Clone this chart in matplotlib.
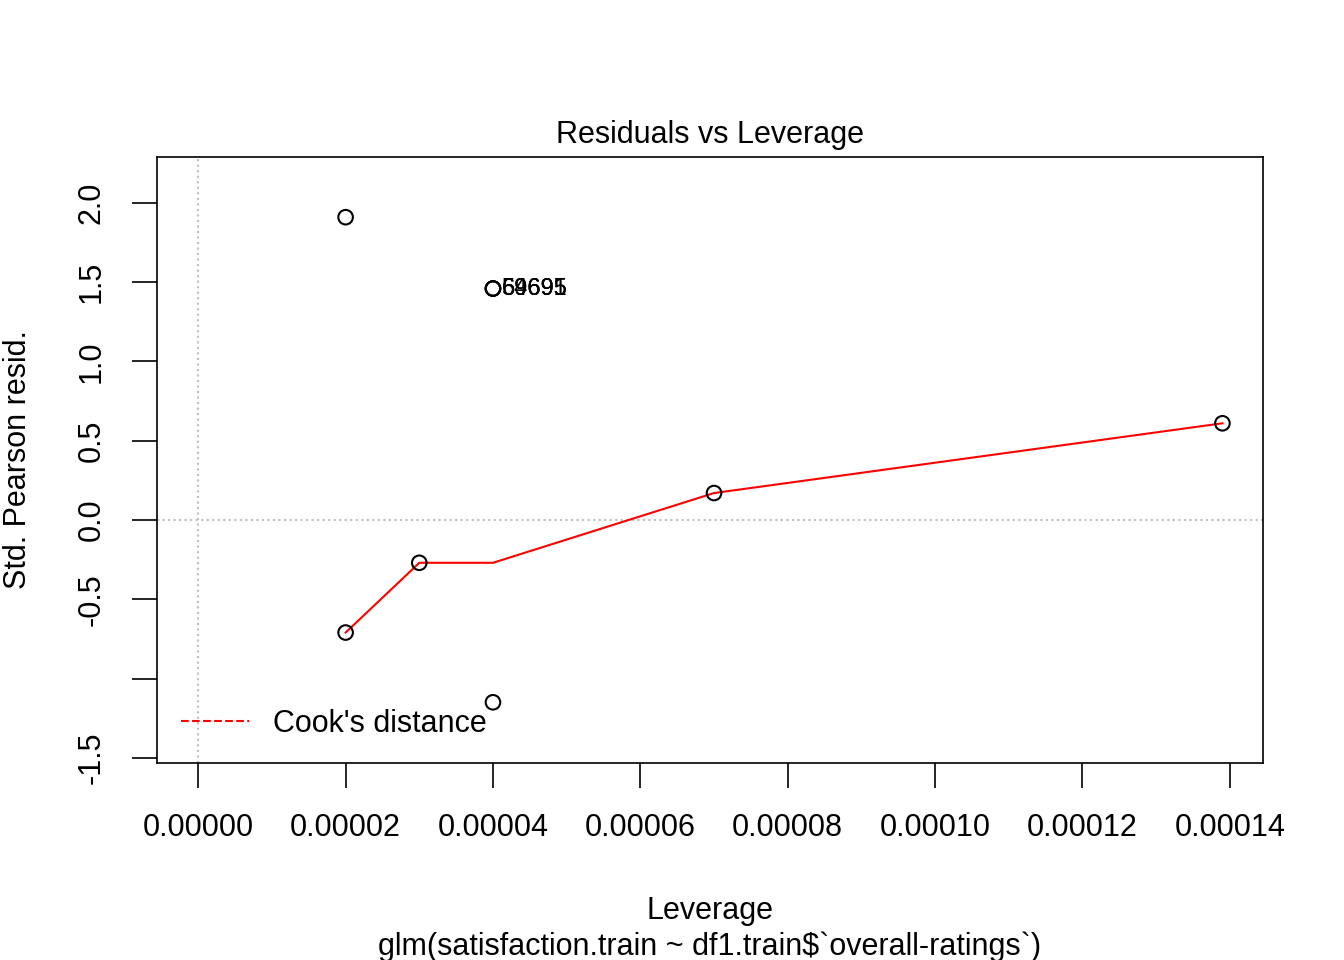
import matplotlib
matplotlib.use("Agg")
import matplotlib.pyplot as plt

plt.rcParams['font.family'] = ['Liberation Sans', 'DejaVu Sans']

leverage = [0.00002, 0.00004, 0.00004, 0.00004, 0.00002, 0.00003, 0.00004, 0.00007, 0.000139]
resid = [1.91, 1.46, 1.46, 1.46, -0.71, -0.27, -1.15, 0.17, 0.61]
labels = ["64695", "59691", "69695"]
label_x = [0.00004, 0.00004, 0.00004]
label_y = [1.46, 1.46, 1.46]
smooth_x = [0.00002, 0.00003, 0.00004, 0.00007, 0.000139]
smooth_y = [-0.71, -0.27, -0.27, 0.17, 0.61]
xticks = [0, 0.00002, 0.00004, 0.00006, 0.00008, 0.00010, 0.00012, 0.00014]
xticklabels = ["0.00000", "0.00002", "0.00004", "0.00006", "0.00008", "0.00010", "0.00012", "0.00014"]
yticks = [-1.5, -1.0, -0.5, 0.0, 0.5, 1.0, 1.5, 2.0]
yticklabels = ["-1.5", "", "-0.5", "0.0", "0.5", "1.0", "1.5", "2.0"]

fig = plt.figure(figsize=(13.44, 9.6), dpi=100)
ax = fig.add_axes([0.1168, 0.2052, 0.8229, 0.6313])
ax.axhline(0, color='#bebebe', ls=':', lw=1.5)
ax.axvline(0, color='#bebebe', ls=':', lw=1.5)
ax.plot(smooth_x, smooth_y, color='red', lw=1.5)
ax.scatter(leverage, resid, s=110, facecolors='none', edgecolors='black', linewidths=1.5, zorder=3)
for t, x, y in zip(labels, label_x, label_y):
    ax.annotate(t, (x, y), xytext=(6, 0), textcoords='offset points', fontsize=17, va='center')
ax.set_xlim(-0.0000056, 0.0001445)
ax.set_ylim(-1.533, 2.29)
ax.set_xticks(xticks)
ax.set_xticklabels(xticklabels, fontsize=22)
ax.set_yticks(yticks)
ax.set_yticklabels(yticklabels, fontsize=22, rotation=90, va='center')
ax.tick_params(direction='out', length=18, width=1.2, pad=18)
for s in ax.spines.values():
    s.set_linewidth(1.2)
ax.set_title("Residuals vs Leverage", fontsize=22, pad=10)
ax.set_ylabel("Std. Pearson resid.", fontsize=22, labelpad=32)
ax.set_xlabel("Leverage\nglm(satisfaction.train ~ df1.train$`overall-ratings`)", fontsize=22, labelpad=38, linespacing=1.25)
ax.plot([], [], color='red', ls='--', lw=1.5, label="Cook's distance")
ax.legend(loc='lower left', frameon=False, fontsize=22, handlelength=2.2, borderaxespad=0.4)
fig.savefig("out.png", dpi=100)
